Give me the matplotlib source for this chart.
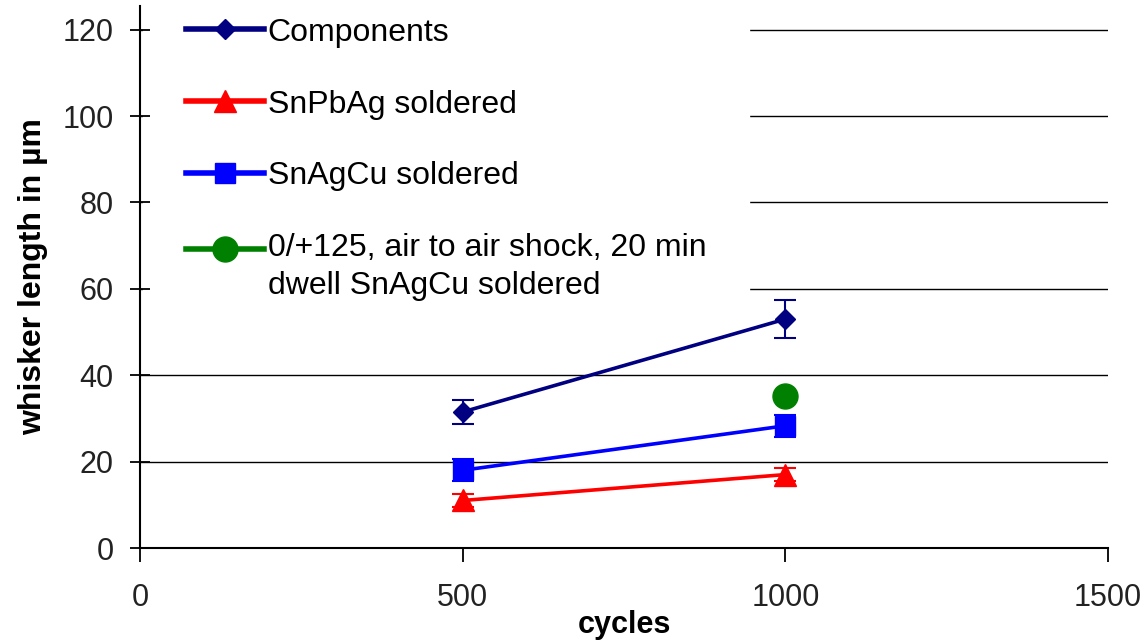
import matplotlib
matplotlib.use("Agg")
import numpy as np
import matplotlib.pyplot as plt
from matplotlib.legend_handler import HandlerLine2D

plt.rcParams['font.family'] = ['Liberation Sans', 'DejaVu Sans']

cycles = [500, 1000]
components = [31.5, 53.0]
components_err = [2.8, 4.4]
snpbag = [11.0, 17.0]
snpbag_err = [1.5, 1.5]
snagcu = [18.0, 28.3]
snagcu_err = [2.5, 2.5]
shock_x = [1000]
shock = [35.3]

labels = ["Components", "SnPbAg soldered", "SnAgCu soldered",
          "0/+125, air to air shock, 20 min\ndwell SnAgCu soldered"]
xticks = [0, 500, 1000, 1500]
yticks = [0, 20, 40, 60, 80, 100, 120]

fig = plt.figure(figsize=(11.45, 6.4), dpi=100)
ax = fig.add_axes([0.1223, 0.14375, 0.8454, 0.8469])

for y in yticks[1:]:
    ax.axhline(y, color='black', lw=1.0, zorder=1)

c1 = ax.errorbar(cycles, components, yerr=components_err, color='#000080', lw=2.6,
                 marker='D', ms=10, capsize=8, elinewidth=1.5, capthick=1.5, zorder=7)
c2 = ax.errorbar(cycles, snpbag, yerr=snpbag_err, color='#FF0000', lw=2.6,
                 marker='^', ms=16, capsize=8, elinewidth=1.5, capthick=1.5, zorder=7)
c3 = ax.errorbar(cycles, snagcu, yerr=snagcu_err, color='#0000FF', lw=2.6,
                 marker='s', ms=14, capsize=8, elinewidth=1.5, capthick=1.5, zorder=7)
l4, = ax.plot(shock_x, shock, color='#008000', lw=2.6, marker='o', ms=18, zorder=7)

ax.set_xlim(0, 1500)
ax.set_ylim(0, 125.5)
ax.set_xticks(xticks)
ax.set_yticks(yticks)
ax.tick_params(axis='y', direction='inout', length=14, width=1.3, labelsize=22, pad=12)
ax.tick_params(axis='x', direction='out', length=10, width=1.3, labelsize=22, pad=15)
for t in ax.get_xticklabels() + ax.get_yticklabels():
    t.set_color('#222222')

for s in ['top', 'right']:
    ax.spines[s].set_visible(False)
for s in ['left', 'bottom']:
    ax.spines[s].set_linewidth(1.5)
    ax.spines[s].set_zorder(6)
ax.yaxis.set_zorder(6)

ax.set_xlabel("cycles", fontsize=22, fontweight='bold', labelpad=-2)
ax.set_ylabel("whisker length in µm", fontsize=23, fontweight='bold', labelpad=10)


class FirstLineHandler(HandlerLine2D):
    def __init__(self, shift, **kw):
        super().__init__(**kw)
        self.shift = shift

    def create_artists(self, legend, orig_handle, xdescent, ydescent, width,
                       height, fontsize, trans):
        arts = super().create_artists(legend, orig_handle, xdescent, ydescent,
                                      width, height, fontsize, trans)
        for a in arts:
            a.set_ydata(np.asarray(a.get_ydata(), dtype=float) + self.shift)
        return arts


fs = 23
handles = [c1[0], c2[0], c3[0], l4]
leg = ax.legend(handles, labels, loc='upper left', bbox_to_anchor=(0.003, 1.058),
                fontsize=fs, frameon=True, fancybox=False, facecolor='white',
                edgecolor='white', framealpha=1, handlelength=2.45, handletextpad=0.1,
                labelspacing=1.31, borderpad=1.35, borderaxespad=0.0,
                handler_map={l4: FirstLineHandler(13.7)})
leg.set_zorder(5)
leg.get_texts()[3].set_linespacing(1.35)
for ln in leg.get_lines():
    ln.set_linewidth(4)

fig.savefig("out.png", dpi=100)
